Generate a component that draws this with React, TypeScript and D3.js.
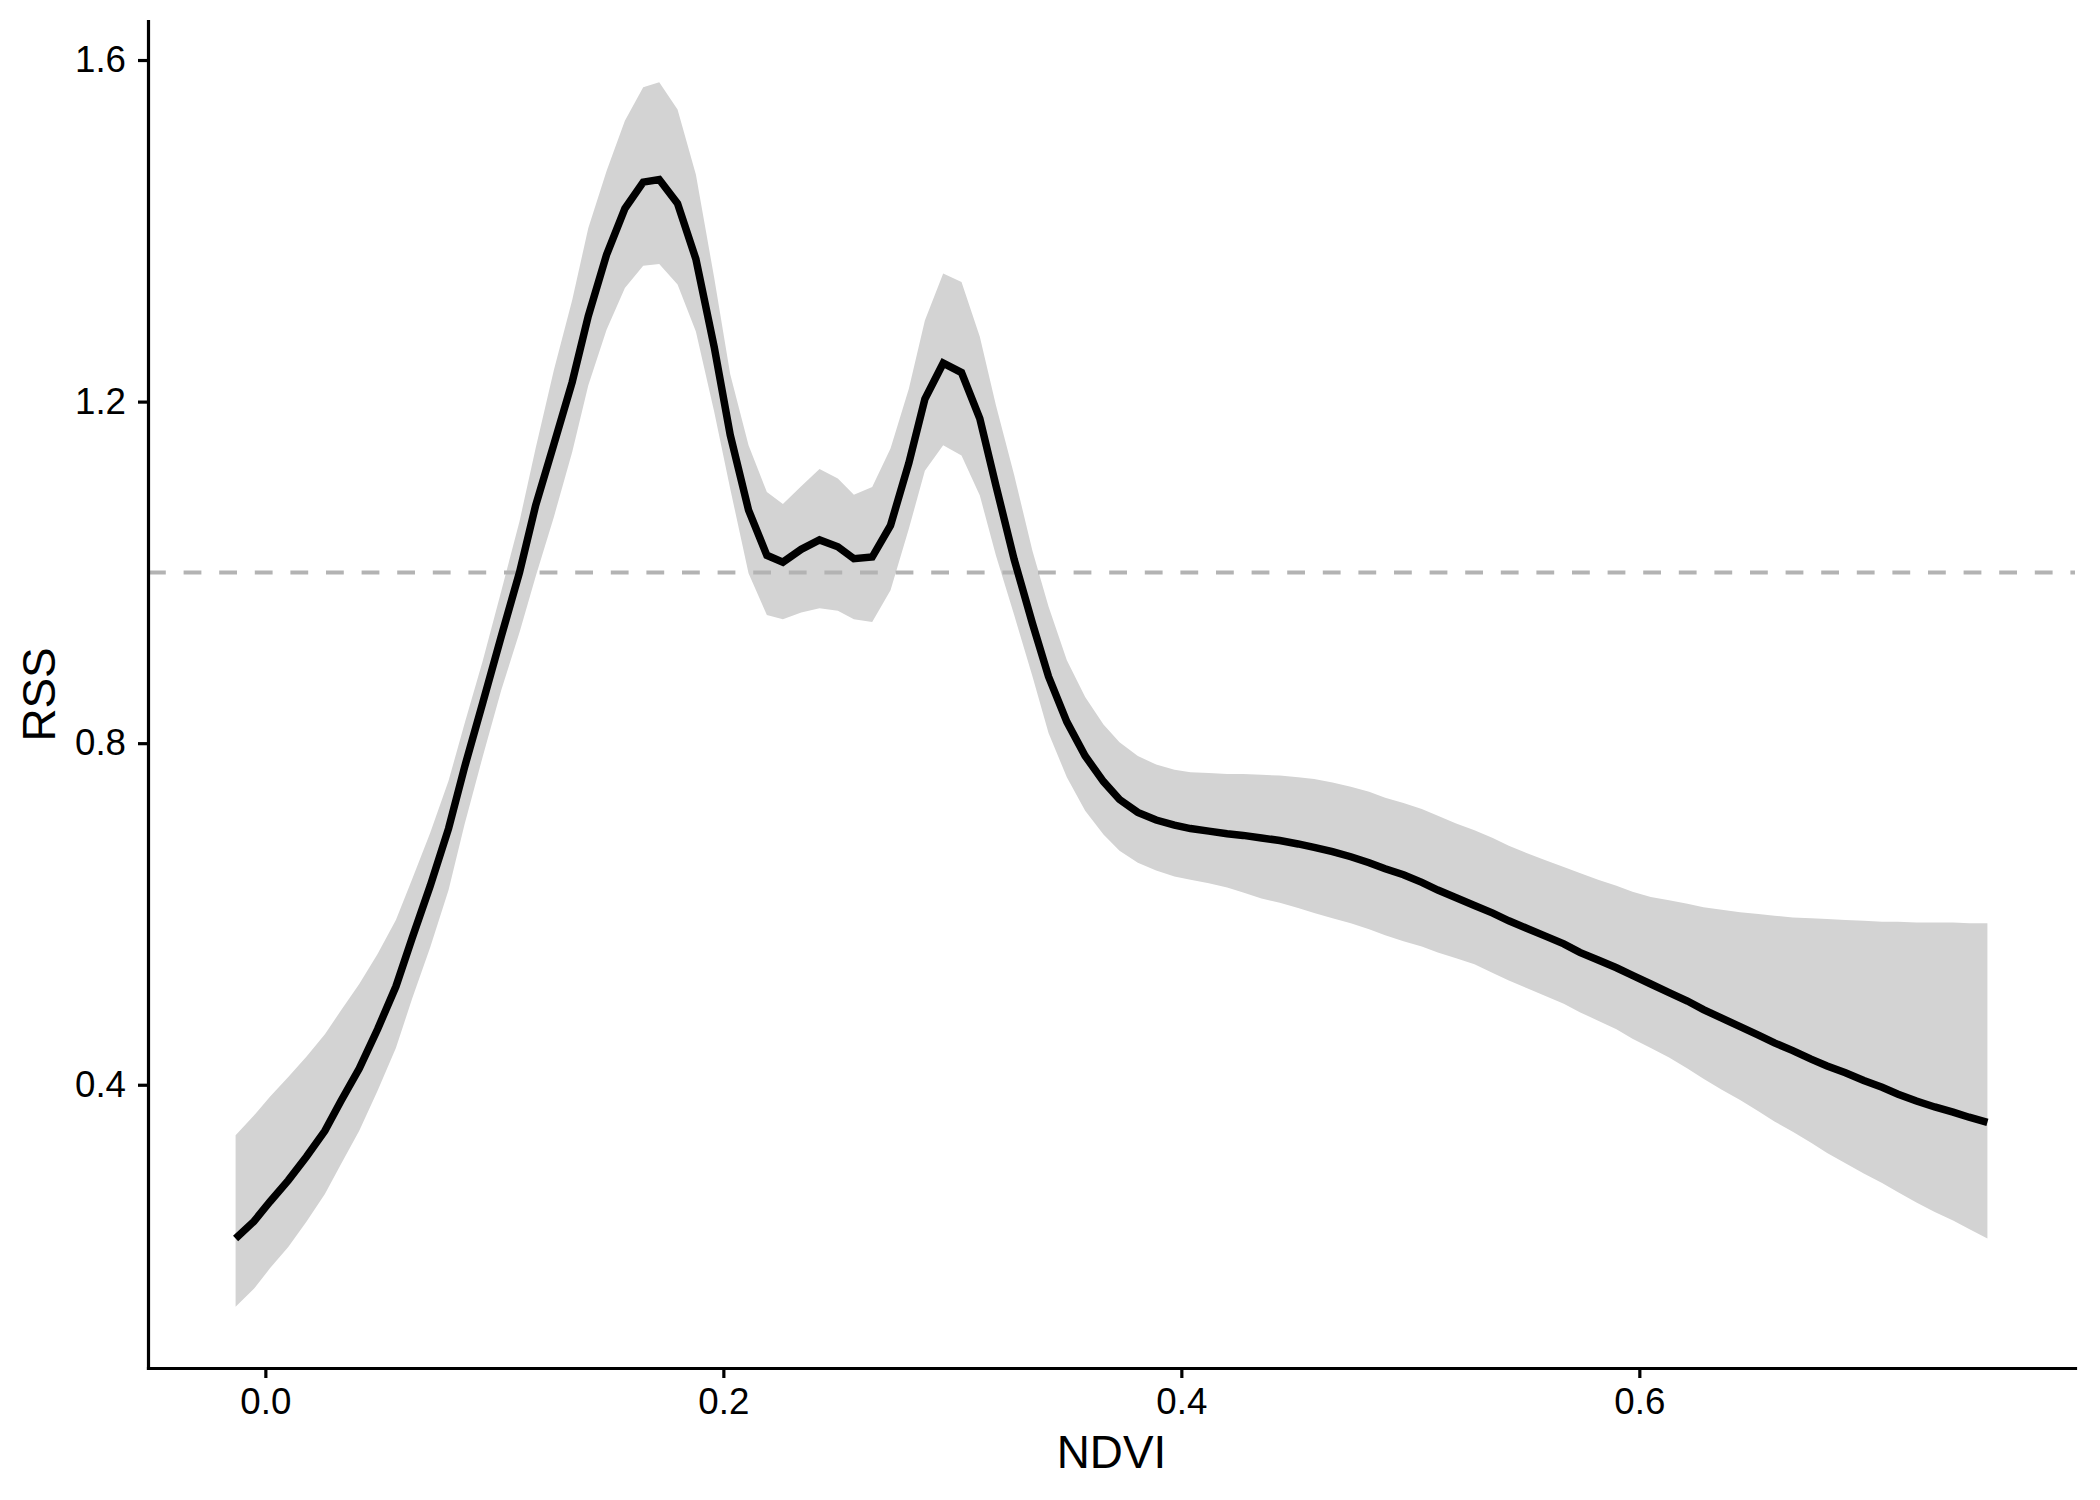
import * as d3 from "d3";
import React, { useEffect, useRef } from "react";

const ndvi = [
  -0.013, -0.005, 0.002, 0.01, 0.018, 0.026, 0.033, 0.041, 0.049, 0.057,
  0.064, 0.072, 0.08, 0.087, 0.095, 0.103, 0.111, 0.118, 0.126, 0.134,
  0.141, 0.149, 0.157, 0.165, 0.172, 0.18, 0.188, 0.196, 0.203, 0.211,
  0.219, 0.226, 0.234, 0.242, 0.25, 0.257, 0.265, 0.273, 0.281, 0.288,
  0.296, 0.304, 0.312, 0.319, 0.327, 0.335, 0.342, 0.35, 0.358, 0.366,
  0.373, 0.381, 0.389, 0.397, 0.404, 0.412, 0.42, 0.427, 0.435, 0.443,
  0.451, 0.458, 0.466, 0.474, 0.482, 0.489, 0.497, 0.505, 0.512, 0.52,
  0.528, 0.536, 0.543, 0.551, 0.559, 0.567, 0.574, 0.582, 0.59, 0.597,
  0.605, 0.613, 0.621, 0.628, 0.636, 0.644, 0.652, 0.659, 0.667, 0.675,
  0.682, 0.69, 0.698, 0.706, 0.713, 0.721, 0.729, 0.737, 0.744, 0.752,
];

// fitted relative selection strength
const rss = [
  0.22, 0.24, 0.263, 0.288, 0.316, 0.346, 0.381, 0.419, 0.465, 0.515,
  0.571, 0.633, 0.7, 0.772, 0.848, 0.925, 1.0, 1.078, 1.15, 1.223,
  1.3, 1.372, 1.426, 1.457, 1.46, 1.432, 1.367, 1.264, 1.161, 1.073,
  1.02, 1.012, 1.027, 1.038, 1.03, 1.016, 1.018, 1.055, 1.128, 1.203,
  1.245, 1.234, 1.18, 1.102, 1.015, 0.94, 0.878, 0.825, 0.785, 0.755,
  0.734, 0.719, 0.71, 0.704, 0.7, 0.697, 0.694, 0.692, 0.689, 0.686,
  0.682, 0.678, 0.673, 0.667, 0.66, 0.653, 0.646, 0.637, 0.628, 0.619,
  0.61, 0.601, 0.592, 0.583, 0.574, 0.565, 0.555, 0.546, 0.537, 0.528,
  0.518, 0.508, 0.498, 0.488, 0.478, 0.468, 0.458, 0.449, 0.44, 0.43,
  0.422, 0.414, 0.405, 0.397, 0.389, 0.381, 0.374, 0.368, 0.362, 0.356,
];

// upper confidence bound
const upper = [
  0.341, 0.364, 0.386, 0.409, 0.433, 0.459, 0.487, 0.518, 0.553, 0.593,
  0.64, 0.695, 0.756, 0.823, 0.897, 0.978, 1.06, 1.145, 1.237, 1.319,
  1.403, 1.47, 1.529, 1.568, 1.574, 1.542, 1.466, 1.345, 1.232, 1.149,
  1.094, 1.08, 1.101, 1.121, 1.11, 1.091, 1.1, 1.145, 1.215, 1.295,
  1.35, 1.34, 1.276, 1.196, 1.114, 1.025, 0.96, 0.897, 0.854, 0.822,
  0.801, 0.785, 0.775, 0.769, 0.766, 0.765, 0.764, 0.764, 0.763, 0.762,
  0.76, 0.758, 0.754, 0.749, 0.743, 0.736, 0.73, 0.723, 0.715, 0.706,
  0.698, 0.689, 0.68, 0.671, 0.663, 0.655, 0.648, 0.64, 0.633, 0.626,
  0.62, 0.616, 0.612, 0.608, 0.605, 0.602, 0.6, 0.598, 0.596, 0.595,
  0.594, 0.593, 0.592, 0.591, 0.591, 0.59, 0.59, 0.59, 0.589, 0.589,
];

// lower confidence bound
const lower = [
  0.14, 0.161, 0.185, 0.21, 0.24, 0.272, 0.307, 0.346, 0.393, 0.443,
  0.5, 0.561, 0.628, 0.705, 0.785, 0.862, 0.93, 0.995, 1.065, 1.141,
  1.219, 1.284, 1.333, 1.359, 1.361, 1.337, 1.282, 1.188, 1.098, 0.999,
  0.95, 0.945, 0.953, 0.958, 0.955, 0.945, 0.942, 0.979, 1.051, 1.119,
  1.149, 1.137, 1.09, 1.02, 0.95, 0.878, 0.812, 0.76, 0.721, 0.693,
  0.674, 0.66, 0.651, 0.644, 0.64, 0.636, 0.631, 0.625, 0.618, 0.613,
  0.607, 0.601, 0.595, 0.589, 0.582, 0.575, 0.568, 0.562, 0.555, 0.548,
  0.541, 0.531, 0.522, 0.513, 0.504, 0.495, 0.485, 0.475, 0.465, 0.454,
  0.443, 0.432, 0.419, 0.407, 0.394, 0.382, 0.369, 0.357, 0.345, 0.332,
  0.32, 0.308, 0.296, 0.285, 0.274, 0.262, 0.251, 0.241, 0.231, 0.22,
];

const xTicks = [0, 0.2, 0.4, 0.6];
const yTicks = [0.4, 0.8, 1.2, 1.6];
const referenceLevel = 1;

const width = 2100;
const height = 1500;
const marginLeft = 148;
const marginRight = 25;
const marginTop = 21;
const marginBottom = 132;
const font = "'Liberation Sans', Arial, Helvetica, sans-serif";

export default function App() {
  const svgRef = useRef<SVGSVGElement>(null);

  useEffect(() => {
    if (!svgRef.current) return;
    const svg = d3.select(svgRef.current);
    svg.selectAll("*").remove();

    const data = ndvi.map((x, i) => ({ x, y: rss[i], lo: lower[i], hi: upper[i] }));

    // ggplot-style 5% expansion of the data range
    const xExt = d3.extent(ndvi) as [number, number];
    const xPad = (xExt[1] - xExt[0]) * 0.05;
    const yMin = d3.min(lower) ?? 0;
    const yMax = d3.max(upper) ?? 1;
    const yPad = (yMax - yMin) * 0.05;

    const xScale = d3
      .scaleLinear()
      .domain([xExt[0] - xPad, xExt[1] + xPad])
      .range([marginLeft, width - marginRight]);
    const yScale = d3
      .scaleLinear()
      .domain([yMin - yPad, yMax + yPad])
      .range([height - marginBottom, marginTop]);

    const area = d3
      .area<(typeof data)[number]>()
      .x((d) => xScale(d.x))
      .y0((d) => yScale(d.lo))
      .y1((d) => yScale(d.hi));

    const line = d3
      .line<(typeof data)[number]>()
      .x((d) => xScale(d.x))
      .y((d) => yScale(d.y));

    svg.append("path").datum(data).attr("d", area).attr("fill", "#d3d3d3");

    svg
      .append("line")
      .attr("x1", xScale.range()[0])
      .attr("x2", xScale.range()[1])
      .attr("y1", yScale(referenceLevel))
      .attr("y2", yScale(referenceLevel))
      .attr("stroke", "#b3b3b3")
      .attr("stroke-width", 4)
      .attr("stroke-dasharray", "17.8 17.8");

    svg
      .append("path")
      .datum(data)
      .attr("d", line)
      .attr("fill", "none")
      .attr("stroke", "#000")
      .attr("stroke-width", 7.5)
      .attr("stroke-linejoin", "miter");

    const xAxis = d3
      .axisBottom(xScale)
      .tickValues(xTicks)
      .tickFormat(d3.format(".1f"))
      .tickSize(10)
      .tickPadding(10)
      .tickSizeOuter(0);
    const yAxis = d3
      .axisLeft(yScale)
      .tickValues(yTicks)
      .tickFormat(d3.format(".1f"))
      .tickSize(10)
      .tickPadding(12)
      .tickSizeOuter(0);

    const styleAxis = (g: d3.Selection<SVGGElement, unknown, null, undefined>) => {
      g.select(".domain").attr("stroke-width", 3.2).attr("stroke-linecap", "square");
      g.selectAll(".tick line").attr("stroke-width", 3.2);
      g.selectAll(".tick text")
        .attr("font-size", 36.7)
        .attr("font-family", font)
        .attr("fill", "#000");
    };

    svg
      .append("g")
      .attr("transform", `translate(0,${height - marginBottom})`)
      .call(xAxis)
      .call(styleAxis);

    svg
      .append("g")
      .attr("transform", `translate(${marginLeft},0)`)
      .call(yAxis)
      .call(styleAxis);

    svg
      .append("text")
      .attr("x", (marginLeft + width - marginRight) / 2)
      .attr("y", 1468)
      .attr("text-anchor", "middle")
      .attr("font-family", font)
      .attr("font-size", 45.8)
      .attr("fill", "#000")
      .text("NDVI");

    svg
      .append("text")
      .attr("transform", `translate(55,${(marginTop + height - marginBottom) / 2}) rotate(-90)`)
      .attr("text-anchor", "middle")
      .attr("font-family", font)
      .attr("font-size", 45.8)
      .attr("fill", "#000")
      .text("RSS");
  }, []);

  return (
    <svg
      ref={svgRef}
      width={width}
      height={height}
      viewBox={`0 0 ${width} ${height}`}
      style={{ position: "absolute", left: 0, top: 0, background: "#fff" }}
    />
  );
}
